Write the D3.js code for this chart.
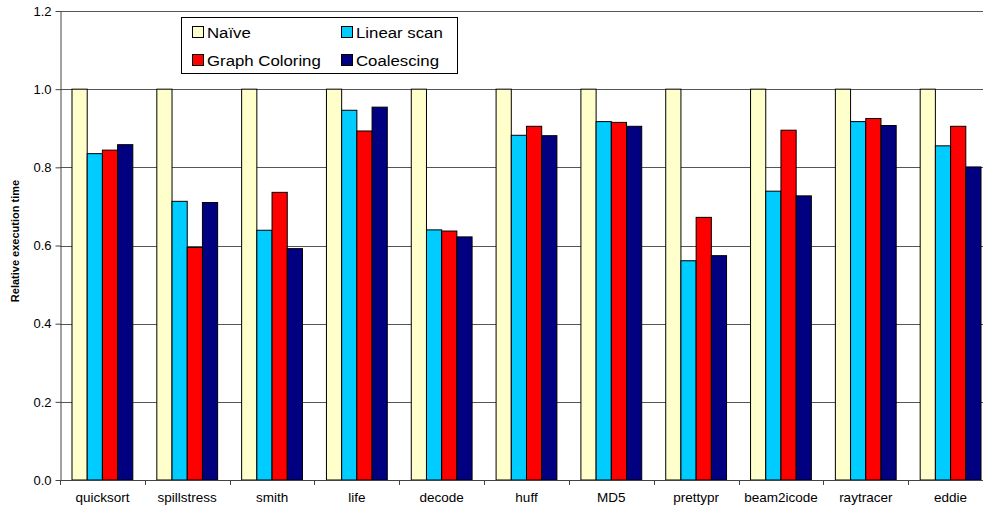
<!DOCTYPE html>
<html>
<head>
<meta charset="utf-8">
<script src="https://cdn.jsdelivr.net/npm/d3@7"></script>
<style>
  body { margin: 0; background: #fff; }
  svg { display: block; font-family: "Liberation Sans", Arial, sans-serif; }
</style>
</head>
<body>
<script>
// benchmarks and relative execution time per allocator
var categories = ['quicksort', 'spillstress', 'smith', 'life', 'decode', 'huff',
                  'MD5', 'prettypr', 'beam2icode', 'raytracer', 'eddie'];
var seriesNames = ['Naïve', 'Linear scan', 'Graph Coloring', 'Coalescing'];
var naive       = [1, 1, 1, 1, 1, 1, 1, 1, 1, 1, 1];
var linearScan  = [0.835, 0.713, 0.639, 0.946, 0.640, 0.882, 0.917, 0.561, 0.739, 0.917, 0.855];
var graphColor  = [0.844, 0.595, 0.736, 0.893, 0.637, 0.905, 0.915, 0.672, 0.895, 0.925, 0.905];
var coalescing  = [0.858, 0.710, 0.592, 0.954, 0.622, 0.881, 0.905, 0.574, 0.727, 0.907, 0.801];
var yTicks = [0, 0.2, 0.4, 0.6, 0.8, 1.0, 1.2];

var colors = ['#FFFFCC', '#00CCFF', '#FF0000', '#000080'];
var series = [naive, linearScan, graphColor, coalescing];

var W = 983, H = 508;
// note: "top" is taken by window.top, so use a prefix
var pLeft = 60, pRight = 993, pTop = 11, pBottom = 480;

var svg = d3.select('body').append('svg')
    .attr('width', W)
    .attr('height', H);

var x = d3.scaleBand().domain(categories).range([pLeft, pRight]);
var x1 = d3.scaleBand().domain(d3.range(4)).range([12, x.bandwidth() - 12]);
var y = d3.scaleLinear().domain([0, 1.2]).range([pBottom, pTop]);

// gridlines
svg.append('g')
   .selectAll('line')
   .data(yTicks.slice(1))
   .enter()
   .append('line')
   .attr('x1', pLeft)
   .attr('x2', pRight)
   .attr('y1', function(d) { return Math.round(y(d)) + 0.5; })
   .attr('y2', function(d) { return Math.round(y(d)) + 0.5; })
   .attr('stroke', '#555')
   .attr('stroke-width', 1);

// bars
var groups = svg.append('g')
   .selectAll('g')
   .data(categories)
   .enter()
   .append('g')
   .attr('transform', function(d) { return 'translate(' + x(d) + ',0)'; });

groups.selectAll('rect')
   .data(function(d, i) { return series.map(function(s, k) { return { k: k, v: s[i] }; }); })
   .enter()
   .append('rect')
   .attr('x', function(d) { return x1(d.k); })
   .attr('y', function(d) { return y(d.v); })
   .attr('width', x1.bandwidth())
   .attr('height', function(d) { return y(0) - y(d.v); })
   .attr('fill', function(d) { return colors[d.k]; })
   .attr('stroke', '#000')
   .attr('stroke-width', 1);

// y axis
var yAxis = svg.append('g')
   .attr('transform', 'translate(' + (pLeft + 0.5) + ',0)')
   .call(d3.axisLeft(y).tickValues(yTicks).tickFormat(d3.format('.1f')).tickSize(5).tickSizeOuter(0));
yAxis.select('.domain').attr('stroke', '#444');
yAxis.selectAll('.tick line').attr('stroke', '#444');
yAxis.selectAll('text')
   .attr('font-size', 13)
   .attr('fill', '#000')
   .attr('x', -9)
   .attr('font-family', 'Liberation Sans, Arial, sans-serif');

// x axis
var ticksX = categories.map(function(c) { return x(c); }).concat([pRight]);
var xg = svg.append('g');
xg.append('line')
  .attr('x1', pLeft).attr('x2', pRight)
  .attr('y1', pBottom + 0.5).attr('y2', pBottom + 0.5)
  .attr('stroke', '#444');
xg.selectAll('line.t')
  .data(ticksX)
  .enter()
  .append('line')
  .attr('class', 't')
  .attr('x1', function(d) { return Math.round(d) + 0.5; })
  .attr('x2', function(d) { return Math.round(d) + 0.5; })
  .attr('y1', pBottom)
  .attr('y2', pBottom + 5)
  .attr('stroke', '#444');
xg.selectAll('text')
  .data(categories)
  .enter()
  .append('text')
  .attr('x', function(d) { return x(d) + x.bandwidth() / 2; })
  .attr('y', 502)
  .attr('text-anchor', 'middle')
  .attr('font-size', 13.5)
  .text(function(d) { return d; });

// y axis title
svg.append('text')
   .attr('transform', 'translate(19,' + 241 + ') rotate(-90)')
   .attr('text-anchor', 'middle')
   .attr('font-size', 11)
   .attr('font-weight', 'bold')
   .text('Relative execution time');

// legend
var legend = svg.append('g');
legend.append('rect')
   .attr('x', 181.5).attr('y', 17.5)
   .attr('width', 276).attr('height', 56)
   .attr('fill', '#fff')
   .attr('stroke', '#000');

var legendPos = [[192, 32], [341, 32], [192, 60], [341, 60]];
var items = legend.selectAll('g.item')
   .data(seriesNames)
   .enter()
   .append('g')
   .attr('class', 'item')
   .attr('transform', function(d, i) { return 'translate(' + legendPos[i][0] + ',' + legendPos[i][1] + ')'; });
items.append('rect')
   .attr('x', 0.5).attr('y', -5.5)
   .attr('width', 11).attr('height', 11)
   .attr('fill', function(d, i) { return colors[i]; })
   .attr('stroke', '#000');
items.append('text')
   .attr('transform', 'translate(15,5.5) scale(1.12,1)')
   .attr('font-size', 15)
   .text(function(d) { return d; });
</script>
</body>
</html>
